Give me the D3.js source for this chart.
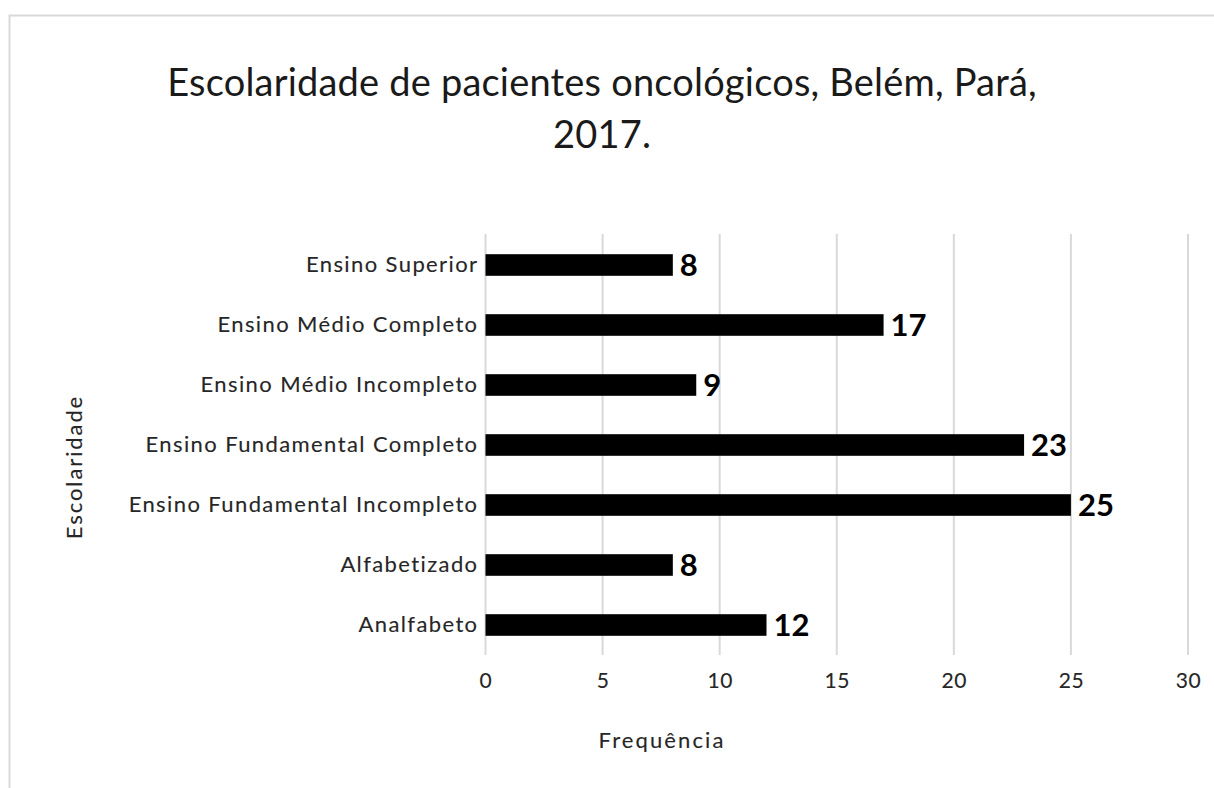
<!DOCTYPE html>
<html>
<head>
<meta charset="utf-8">
<script src="https://cdn.jsdelivr.net/npm/d3@7"></script>
<style>
  body { margin: 0; background: #fff; }
  svg { font-family: Lato, "Open Sans", sans-serif; }
  .lbl { stroke: #262626; stroke-width: 0.12px; }
</style>
</head>
<body>
<div id="chart"></div>
<script>
// Escolaridade dos pacientes (top to bottom as drawn)
const categories = [
    "Ensino Superior",
    "Ensino Médio Completo",
    "Ensino Médio Incompleto",
    "Ensino Fundamental Completo",
    "Ensino Fundamental Incompleto",
    "Alfabetizado",
    "Analfabeto"
];
const values = [8, 17, 9, 23, 25, 8, 12];
const xTicks = [0, 5, 10, 15, 20, 25, 30];
const titleLines = ["Escolaridade de pacientes oncológicos, Belém, Pará,", "2017."];

const data = categories.map((c, i) => ({ cat: c, val: values[i] }));

const width = 1214,
      height = 788,
      margin = ({ top: 234, right: 26, bottom: 133, left: 485.5 });

const svg = d3.select("#chart")
    .append("svg")
    .attr("width", width)
    .attr("height", height);

// outer chart border
svg.append("rect")
    .attr("x", 9.5)
    .attr("y", 15.5)
    .attr("width", 1230)
    .attr("height", 800)
    .attr("fill", "none")
    .attr("stroke", "#d9d9d9")
    .attr("stroke-width", 2);

let x = d3.scaleLinear()
    .domain([0, 30])
    .range([margin.left, width - margin.right]);

let y = d3.scaleBand()
    .domain(categories)
    .range([margin.top + 1, height - margin.bottom])
    .paddingInner(0.64)
    .paddingOuter(0.32);

// gridlines
svg.append("g")
    .selectAll("line")
    .data(xTicks)
    .join("line")
    .attr("x1", d => x(d))
    .attr("x2", d => x(d))
    .attr("y1", margin.top)
    .attr("y2", height - margin.bottom)
    .attr("stroke", "#d9d9d9")
    .attr("stroke-width", 2);

// x axis labels
let xAxis = svg.append("g")
    .attr("transform", `translate(0,${height - margin.bottom + 6})`)
    .call(d3.axisBottom(x).tickValues(xTicks).tickSize(0).tickPadding(12));
xAxis.select(".domain").remove();
xAxis.selectAll("text")
    .attr("class", "lbl")
    .attr("font-size", 21)
    .attr("letter-spacing", 0.6)
    .attr("fill", "#262626")
    .style("font-family", "Lato, sans-serif");

// y axis labels
let yAxis = svg.append("g")
    .attr("transform", `translate(${margin.left - 7},0)`)
    .call(d3.axisLeft(y).tickSize(0).tickPadding(0));
yAxis.select(".domain").remove();
yAxis.selectAll("text")
    .attr("class", "lbl")
    .attr("font-size", 22)
    .attr("letter-spacing", 1.4)
    .attr("fill", "#262626")
    .style("font-family", "Lato, sans-serif");

// bars
svg.append("g")
    .selectAll("rect")
    .data(data)
    .join("rect")
    .attr("x", x(0))
    .attr("y", d => y(d.cat))
    .attr("width", d => x(d.val) - x(0))
    .attr("height", y.bandwidth())
    .attr("fill", "#000");

// value labels
svg.append("g")
    .selectAll("text")
    .data(data)
    .join("text")
    .text(d => d.val)
    .attr("x", d => x(d.val) + 7)
    .attr("y", d => y(d.cat) + y.bandwidth() / 2)
    .attr("dy", "0.36em")
    .attr("font-size", 31)
    .attr("font-weight", "bold")
    .attr("fill", "#000");

// title
svg.append("text")
    .attr("text-anchor", "middle")
    .attr("font-size", 38)
    .attr("letter-spacing", 0.2)
    .attr("fill", "#1a1a1a")
    .selectAll("tspan")
    .data(titleLines)
    .join("tspan")
    .attr("x", 602)
    .attr("y", (d, i) => 96 + i * 52)
    .text(d => d);

// axis titles
svg.append("text")
    .attr("class", "lbl")
    .attr("x", 662)
    .attr("y", 748)
    .attr("text-anchor", "middle")
    .attr("font-size", 22)
    .attr("letter-spacing", 2.1)
    .attr("fill", "#262626")
    .text("Frequência");

svg.append("text")
    .attr("class", "lbl")
    .attr("transform", "translate(82,467) rotate(-90)")
    .attr("text-anchor", "middle")
    .attr("font-size", 22)
    .attr("letter-spacing", 1.9)
    .attr("fill", "#262626")
    .text("Escolaridade");
</script>
</body>
</html>
